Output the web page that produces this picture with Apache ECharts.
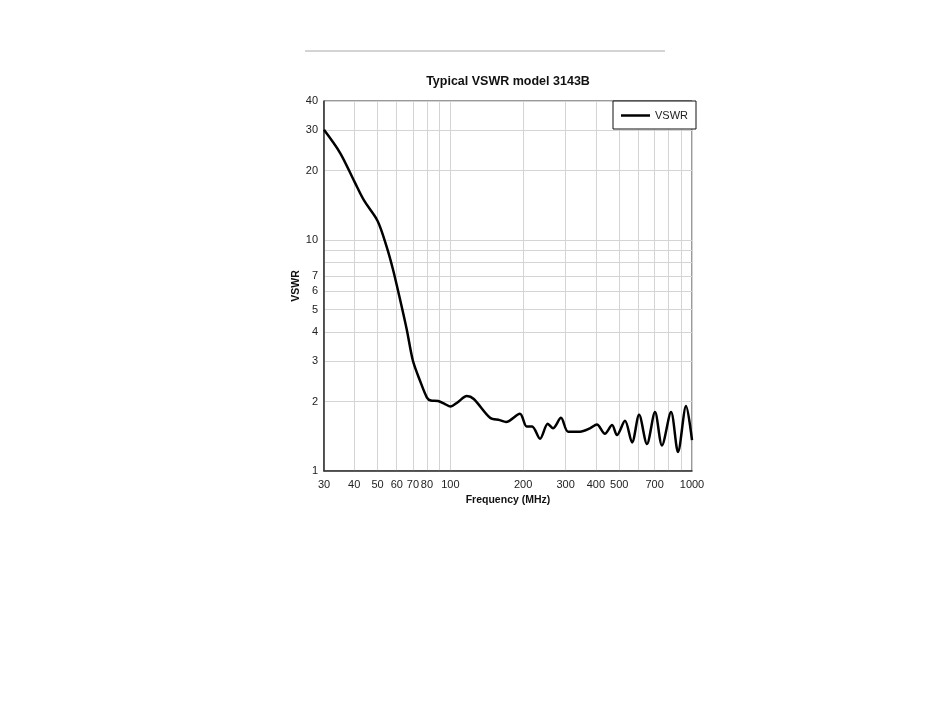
<!DOCTYPE html>
<html>
<head>
<meta charset="utf-8">
<script src="https://cdn.jsdelivr.net/npm/echarts@6/dist/echarts.min.js"></script>
<style>
html,body{margin:0;padding:0;background:#fff;}
#chart{width:950px;height:716px;}
</style>
</head>
<body>
<div id="chart"></div>
<script>
// Data (frequency in MHz, VSWR)
const freqMHz = [30, 35, 40, 44, 50, 54.6, 58, 62, 66, 70, 75, 80, 83, 89, 95, 100, 107, 117, 125, 146, 160, 170, 194, 207, 218, 235, 253, 266, 287, 307, 344, 378, 404, 436, 467, 489, 528, 565, 604, 651, 703, 751, 819, 875, 945, 1000];
const vswr    = [30, 23.8, 18.0, 14.8, 12.1, 9.3, 7.4, 5.5, 4.1, 3.0, 2.45, 2.08, 2.02, 2.01, 1.95, 1.90, 1.98, 2.11, 2.05, 1.70, 1.66, 1.63, 1.77, 1.56, 1.56, 1.38, 1.60, 1.53, 1.70, 1.48, 1.48, 1.53, 1.59, 1.45, 1.58, 1.43, 1.65, 1.33, 1.75, 1.31, 1.80, 1.29, 1.80, 1.21, 1.91, 1.36];

// Axis ticks / grid lines
const xGridValues = [30, 40, 50, 60, 70, 80, 90, 100, 200, 300, 400, 500, 600, 700, 800, 900, 1000];
const xLabelValues = [30, 40, 50, 60, 70, 80, 100, 200, 300, 400, 500, 700, 1000];
const yGridValues = [1, 2, 3, 4, 5, 6, 7, 8, 9, 10, 20, 30, 40];
const yLabelValues = [1, 2, 3, 4, 5, 6, 7, 10, 20, 30, 40];

const L = Math.log10;
const seriesData = freqMHz.map((f, i) => [L(f), L(vswr[i])]);
const fmt = v => String(Math.round(Math.pow(10, v)));
const FONT = '"Liberation Sans", Arial, sans-serif';

const chart = echarts.init(document.getElementById('chart'), null, {renderer: 'canvas'});
chart.setOption({
  animation: false,
  backgroundColor: '#fff',
  title: {
    text: 'Typical VSWR model 3143B',
    left: 503,
    top: 70,
    textAlign: 'center',
    textStyle: {fontFamily: FONT, fontSize: 12.5, fontWeight: 'bold', color: '#111'}
  },
  graphic: [{
    type: 'line',
    shape: {x1: 305, y1: 51, x2: 665, y2: 51},
    style: {stroke: '#a8a8a8', lineWidth: 1}
  }],
  legend: {
    data: [{name: 'VSWR', icon: 'rect'}],
    right: 254,
    top: 101,
    orient: 'vertical',
    padding: [9, 8, 8, 8],
    itemWidth: 29,
    itemHeight: 2.5,
    itemGap: 5,
    backgroundColor: '#fff',
    borderColor: '#111',
    borderWidth: 1,
    borderRadius: 0,
    z: 10,
    textStyle: {fontFamily: FONT, fontSize: 11, color: '#222'}
  },
  grid: {
    left: 324, right: 258, top: 101, bottom: 245,
    show: true, borderColor: '#333', borderWidth: 1
  },
  xAxis: {
    type: 'value',
    min: L(30), max: 3,
    name: 'Frequency (MHz)',
    nameLocation: 'middle',
    nameGap: 23,
    nameTextStyle: {fontFamily: FONT, fontSize: 10.5, fontWeight: 'bold', color: '#111'},
    axisLine: {show: true, lineStyle: {color: '#333', width: 1.5}},
    axisTick: {show: false, customValues: xGridValues.map(L)},
    axisLabel: {
      customValues: xLabelValues.map(L),
      formatter: fmt,
      margin: 8,
      fontFamily: FONT, fontSize: 11, color: '#222'
    },
    splitLine: {show: true, lineStyle: {color: '#d4d4d4', width: 1}}
  },
  yAxis: {
    type: 'value',
    min: 0, max: L(40),
    name: 'VSWR',
    nameLocation: 'middle',
    nameGap: 22,
    nameRotate: 90,
    nameTextStyle: {fontFamily: FONT, fontSize: 10.5, fontWeight: 'bold', color: '#111'},
    axisLine: {show: true, lineStyle: {color: '#333', width: 1.5}},
    axisTick: {show: false, customValues: yGridValues.map(L)},
    axisLabel: {
      customValues: yLabelValues.map(L),
      formatter: fmt,
      margin: 6,
      fontFamily: FONT, fontSize: 11, color: '#222'
    },
    splitLine: {show: true, lineStyle: {color: '#d4d4d4', width: 1}}
  },
  series: [{
    name: 'VSWR',
    type: 'line',
    data: seriesData,
    showSymbol: false,
    smooth: 0.3,
    lineStyle: {color: '#000', width: 2.5},
    itemStyle: {color: '#000'},
    clip: true
  }]
});
</script>
</body>
</html>
